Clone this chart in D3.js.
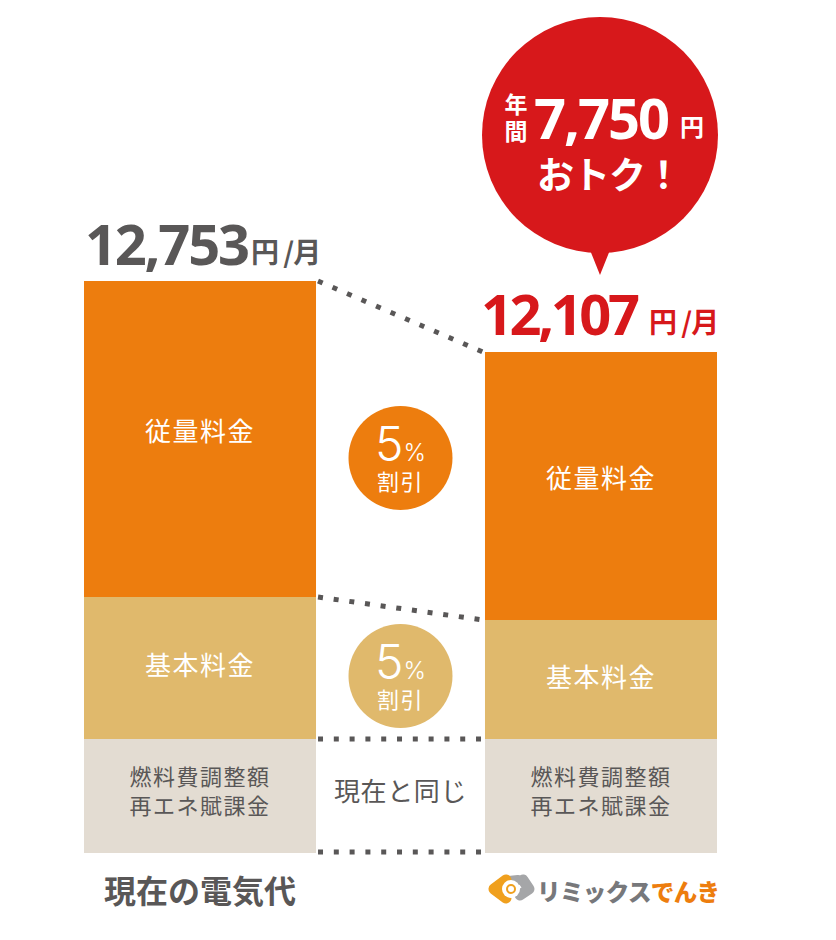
<!DOCTYPE html>
<html>
<head>
<meta charset="utf-8">
<style>
html, body { margin: 0; background: #fff; }
svg { display: block; font-family: "Noto Sans CJK JP", sans-serif; }
</style>
<script src="https://cdn.jsdelivr.net/npm/d3@7"></script>
</head>
<body>
<svg width="836" height="940"></svg>
<script>

// plan names and stacked segments (heights as drawn, the picture is not to scale)
var plans = ["現在の電気代", "リミックスでんき"];
var segments = ["fixed", "basic", "usage"];
var fixedValues = [114, 114];
var basicValues = [142, 119];
var usageValues = [316, 268];
var totalLabels = ["12,753", "12,107"];
var segmentLabels = ["燃料費調整額\n再エネ賦課金", "基本料金", "従量料金"];
var segmentColors = ["#e3dcd2", "#e0b96c", "#ed7d0e"];

var svg = d3.select("svg");

var x = d3.scaleBand().domain(plans).range([84, 717]).paddingInner(0.4214);
var y = d3.scaleLinear().domain([0, 600]).range([853, 253]);

var rows = plans.map(function(p, i) {
  return {plan: p, fixed: fixedValues[i], basic: basicValues[i], usage: usageValues[i]};
});
var series = d3.stack().keys(segments)(rows);

var layer = svg.selectAll(".layer")
    .data(series)
  .enter().append("g")
    .attr("class", "layer")
    .style("fill", function(d, i) { return segmentColors[i]; });

layer.selectAll("rect")
    .data(function(d) { return d; })
  .enter().append("rect")
    .attr("x", function(d) { return x(d.data.plan); })
    .attr("y", function(d) { return y(d[1]); })
    .attr("width", x.bandwidth())
    .attr("height", function(d) { return y(d[0]) - y(d[1]); });

// labels inside the segments
var labelShift = [3, 7, 2];
series.forEach(function(s, si) {
  s.forEach(function(d) {
    var lines = segmentLabels[si].split("\n");
    var cx = x(d.data.plan) + x.bandwidth() / 2;
    var cy = (y(d[0]) + y(d[1])) / 2;
    lines.forEach(function(line, li) {
      svg.append("text")
          .attr("x", cx)
          .attr("y", cy + (li - (lines.length - 1) / 2) * 29 + labelShift[si])
          .attr("text-anchor", "middle")
          .attr("font-size", si == 0 ? 22 : 26)
          .attr("letter-spacing", 1.5)
          .attr("fill", si == 0 ? "#595757" : "#fff")
          .text(line);
    });
  });
});

// dotted connectors between the bars
var left = x(plans[0]) + x.bandwidth(), right = x(plans[1]);
var connectors = [
  [y(fixedValues[0] + basicValues[0] + usageValues[0]), y(fixedValues[1] + basicValues[1] + usageValues[1])],
  [y(fixedValues[0] + basicValues[0]), y(fixedValues[1] + basicValues[1])],
  [y(fixedValues[0]), y(fixedValues[1])],
  [y(0) - 1, y(0) - 1]
];
svg.selectAll(".connector")
    .data(connectors)
  .enter().append("line")
    .attr("class", "connector")
    .attr("x1", left + 2).attr("x2", right - 2)
    .attr("y1", function(d) { return d[0]; })
    .attr("y2", function(d) { return d[1]; })
    .attr("stroke", "#595757")
    .attr("stroke-width", 5)
    .attr("stroke-dasharray", "5 10.8");

// discount badges
var midX = (left + right) / 2;
[[458, "#ed7d0e"], [676, "#e0b96c"]].forEach(function(b) {
  var g = svg.append("g").attr("transform", "translate(" + midX + "," + b[0] + ")");
  g.append("circle").attr("r", 52).attr("fill", b[1]);
  var t = g.append("text").attr("y", 3).attr("text-anchor", "middle").attr("fill", "#fff")
      .attr("font-family", "Inter, sans-serif").attr("font-weight", 300);
  t.append("tspan").attr("font-size", 48).text("5");
  t.append("tspan").attr("font-size", 24).text("%");
  g.append("text").attr("y", 32).attr("text-anchor", "middle").attr("fill", "#fff")
      .attr("font-size", 22).attr("letter-spacing", 1.5).text("割引");
});

svg.append("text")
    .attr("x", midX).attr("y", 801)
    .attr("text-anchor", "middle")
    .attr("font-size", 26)
    .attr("letter-spacing", 0.6)
    .attr("fill", "#595757")
    .text("現在と同じ");

// totals above the bars
function total(tx, ty, value, color, numWidth, unitGap) {
  svg.append("text").attr("x", tx).attr("y", ty).attr("fill", color)
      .attr("font-family", "'Open Sans', sans-serif").attr("font-weight", 700).attr("font-size", 56)
      .attr("letter-spacing", -2).attr("textLength", numWidth).text(value);
  svg.append("text").attr("x", tx + numWidth + unitGap).attr("y", ty - 2).attr("fill", color)
      .attr("font-size", 28).attr("font-weight", 700).attr("letter-spacing", -1).text("円 /月");
}
total(85, 265, totalLabels[0], "#595757", 163, 3);
total(481, 335, totalLabels[1], "#d7181b", 157, 11);

// red balloon
svg.append("circle").attr("cx", 600).attr("cy", 135).attr("r", 118).attr("fill", "#d7181b");
svg.append("path").attr("d", "M590,250 L610,250 L600,275 Z").attr("fill", "#d7181b");
svg.append("text").attr("x", 516).attr("y", 113).attr("text-anchor", "middle").attr("fill", "#fff")
    .attr("font-size", 23).attr("font-weight", 700).text("年");
svg.append("text").attr("x", 516).attr("y", 140).attr("text-anchor", "middle").attr("fill", "#fff")
    .attr("font-size", 23).attr("font-weight", 700).text("間");
svg.append("text").attr("x", 534).attr("y", 139).attr("fill", "#fff")
    .attr("font-family", "'Open Sans', sans-serif").attr("font-weight", 700).attr("font-size", 56)
    .attr("letter-spacing", -2).text("7,750");
svg.append("text").attr("x", 680).attr("y", 136).attr("fill", "#fff")
    .attr("font-size", 24).attr("font-weight", 700).text("円");
svg.append("text").attr("x", 609).attr("y", 189).attr("text-anchor", "middle").attr("fill", "#fff")
    .attr("font-size", 37).attr("font-weight", 700).attr("letter-spacing", -1).text("おトク！");

// names below the bars
svg.append("text")
    .attr("x", x(plans[0]) + x.bandwidth() / 2).attr("y", 903)
    .attr("text-anchor", "middle")
    .attr("font-size", 32).attr("font-weight", 700)
    .attr("fill", "#595757")
    .text(plans[0]);

// logo
var logo = svg.append("g").attr("transform", "translate(511,889)")
    .attr("fill", "none").attr("stroke-linecap", "round").attr("stroke-linejoin", "round");
logo.append("path").attr("d", "M12,-9 L18,0 L9,6").attr("stroke", "#a5a6a8").attr("stroke-width", 11);
logo.append("path").attr("d", "M-3,-8 L7,-9").attr("stroke", "#a5a6a8").attr("stroke-width", 10);
logo.append("path").attr("d", "M-5,-9 L-17,0 L-5,9").attr("stroke", "#f0a01e").attr("stroke-width", 11);
logo.append("circle").attr("r", 9).attr("fill", "#fff");
logo.append("circle").attr("r", 4).attr("stroke", "#f0a01e").attr("stroke-width", 2);
var lt = svg.append("text").attr("x", 537).attr("y", 901).attr("font-size", 23.5).attr("font-weight", 900)
    .attr("letter-spacing", -0.6);
lt.append("tspan").attr("fill", "#77787b").text("リミックス");
lt.append("tspan").attr("fill", "#ed7d0e").text("でんき");

</script>
</body>
</html>
